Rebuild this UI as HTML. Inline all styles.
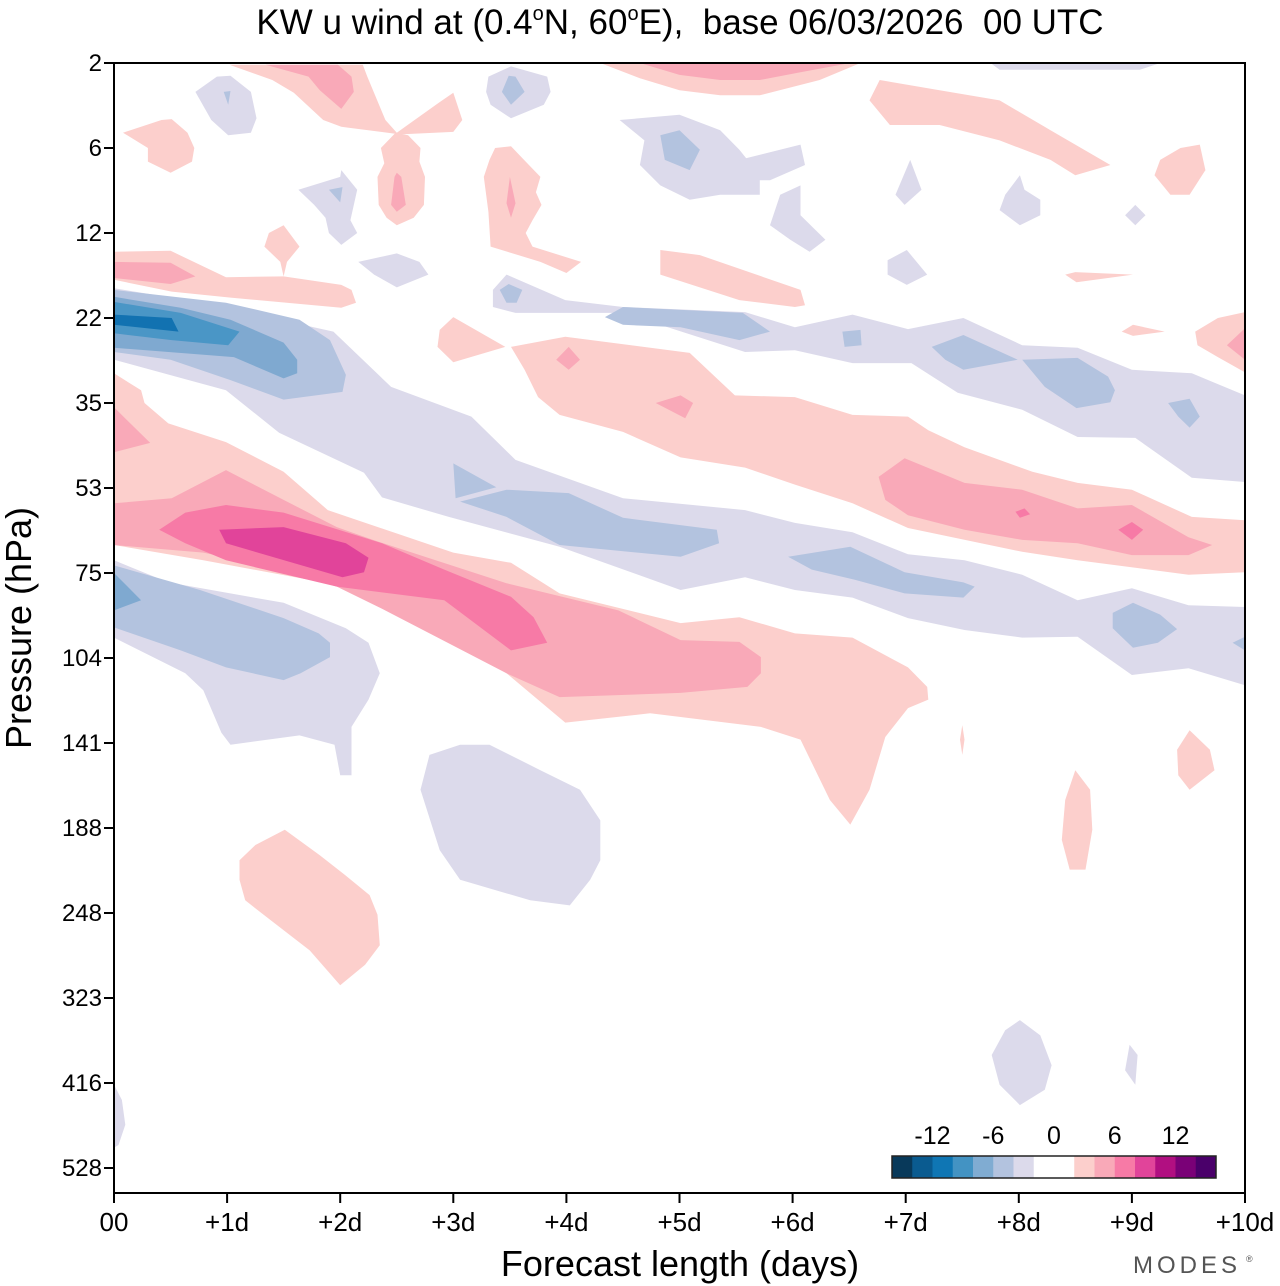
<!DOCTYPE html>
<html><head><meta charset="utf-8"><style>
html,body{margin:0;padding:0;background:#fff;}
svg{display:block;font-family:"Liberation Sans",Arial,sans-serif;}
</style></head><body>
<svg id="chart" width="1280" height="1286" viewBox="0 0 1280 1286" xmlns="http://www.w3.org/2000/svg">
<text x="680" y="34" text-anchor="middle" font-size="35">KW u wind at (0.4<tspan font-size="20" dy="-14">o</tspan><tspan dy="14">N, 60</tspan><tspan font-size="20" dy="-14">o</tspan><tspan dy="14">E),&#160; base 06/03/2026&#160; 00 UTC</tspan></text>
<g id="contours"></g>
<g id="axes"></g>
<text transform="translate(31,628) rotate(-90)" text-anchor="middle" font-size="36">Pressure (hPa)</text>
<text x="680" y="1276" text-anchor="middle" font-size="36">Forecast length (days)</text>
<text x="1133" y="1273" font-size="24" fill="#555" letter-spacing="4">MODES</text>
<text x="1246" y="1262" font-size="9" fill="#555">®</text>
<g id="colorbar"></g>
</svg>
<script>
const pressureTicks = ["2","6","12","22","35","53","75","104","141","188","248","323","416","528"];
const dayTicks = ["00","+1d","+2d","+3d","+4d","+5d","+6d","+7d","+8d","+9d","+10d"];
const cbarLabels = ["-12","-6","0","6","12"];
const cbarLabelPos = [2,5,8,11,14];
const cbarColors = ["#08395a","#0a5b90","#0f76b4","#4393c3","#80acd2","#b3c3df","#dcdaeb","#ffffff","#ffffff","#fccfcc","#f9a9b8","#f77aa6","#e1449a","#b10f81","#7a0177","#4a006a"];
const levelColors = {"-5":"#1272b1","-4":"#4a96c6","-3":"#7fa9d0","-2":"#b3c3df","-1":"#dcdaeb","1":"#fccfcc","2":"#f9a9b8","3":"#f77aa6","4":"#e1449a"};
// contour regions: level (wind anomaly class) and vertices [day, pressure-level-index, ...]
const regionLevels = [1,2,2,3,4,1,2,3,3,2,2,1,-1,-2,-3,-4,-5,-2,-2,-2,-2,-2,-1,-2,-2,-2,-2,-2,-2,-1,-2,-3,-1,1,-1,-1,-1,1,1,1,1,2,1,1,-1,1,1,2,1,2,1,2,1,1,1,2,-1,-2,-1,-2,-1,-1,-2,-1,-2,-1,-1,1,2,1,-1,-1,1,-1,-1];
const regionPoints = [
[0,3.65,.24,3.85,.27,4.0,.48,4.24,.99,4.46,1.5,4.81,1.89,5.26,3.0,5.76,3.51,5.88,3.94,6.24,5.01,6.59,5.53,6.52,6.02,6.71,6.53,6.76,7.02,7.11,7.19,7.34,7.2,7.49,7.02,7.59,6.82,7.93,6.68,8.55,6.51,8.96,6.33,8.67,6.07,7.96,5.72,7.81,4.74,7.65,3.99,7.76,3.47,7.18,2.69,6.52,2.05,6.16,.79,5.85,0,5.67],
[0,5.18,.51,5.12,.99,4.79,1.5,5.14,1.97,5.46,2.29,5.61,3.47,6.12,4.46,6.44,5.01,6.79,5.53,6.81,5.72,6.99,5.72,7.18,5.6,7.34,5.01,7.41,3.94,7.46,3.47,7.18,2.37,6.42,1.97,6.16,1.5,5.96,.79,5.76,0,5.67],
[0,4.05,.32,4.47,0,4.58],
[.4,5.49,.63,5.29,.99,5.2,1.5,5.29,2.37,5.65,2.92,5.96,3.51,6.28,3.71,6.52,3.83,6.82,3.51,6.91,2.92,6.32,1.97,6.16,.99,5.85,.63,5.65],
[.93,5.49,1.5,5.46,2.05,5.65,2.25,5.82,2.21,5.99,2.02,6.05,.99,5.65],
[3.51,3.34,3.99,3.22,5.09,3.41,5.49,3.91,6.02,3.93,6.53,4.14,7.02,4.16,7.2,4.32,7.52,4.52,8.12,4.81,8.52,4.94,9.0,5.02,9.53,5.34,10,5.38,10,5.99,9.5,6.02,8.52,5.85,8.03,5.75,7.02,5.47,6.53,5.18,6.02,4.96,5.58,4.76,5.01,4.64,4.5,4.34,3.94,4.14,3.75,3.93,3.63,3.61],
[6.76,4.87,6.99,4.65,7.52,4.94,8.03,5.02,8.52,5.24,9.0,5.2,9.5,5.58,9.71,5.67,9.5,5.79,9.0,5.79,8.52,5.65,8.03,5.61,7.52,5.49,7.02,5.32,6.82,5.14],
[9.0,5.4,9.1,5.49,9.0,5.61,8.88,5.49],
[7.97,5.28,8.05,5.24,8.1,5.31,8.01,5.35],
[4.02,3.34,4.12,3.49,4.02,3.61,3.91,3.49],
[5.01,3.91,5.12,4.0,5.05,4.18,4.79,4.0],
[3.0,2.99,3.46,3.34,3.0,3.52,2.86,3.34,2.88,3.14],
[0,2.65,.79,2.82,1.94,3.16,2.45,3.81,3.16,4.16,3.55,4.67,4.5,5.12,5.58,5.26,6.02,5.41,6.53,5.52,7.02,5.78,7.52,5.85,8.03,6.02,8.52,6.32,9.0,6.18,9.5,6.38,10,6.4,10,7.32,9.5,7.12,9.0,7.2,8.52,6.75,8.03,6.76,7.52,6.67,7.02,6.53,6.53,6.29,6.02,6.2,5.58,6.05,5.01,6.2,3.94,5.69,2.96,5.34,2.37,5.11,2.21,4.82,1.46,4.35,.99,3.85,0,3.49],
[0,2.67,.99,2.82,1.64,3.02,1.91,3.26,2.05,3.67,2.02,3.87,1.5,3.96,1.03,3.73,.5,3.49,0,3.4],
[0,2.75,.59,2.88,1.03,3.02,1.5,3.29,1.62,3.49,1.62,3.65,1.5,3.71,1.06,3.46,0,3.35],
[0,2.81,.59,2.94,1.11,3.16,1.01,3.32,.51,3.26,0,3.18],
[0,2.96,.51,3.0,.57,3.16,0,3.08],
[3.0,4.71,3.38,4.99,3.02,5.12],
[3.06,5.16,3.47,5.02,4.02,5.06,4.5,5.35,5.33,5.49,5.35,5.65,5.01,5.81,3.94,5.67,3.47,5.34],
[5.96,5.81,6.51,5.69,6.99,5.99,7.51,6.11,7.61,6.16,7.51,6.29,6.99,6.24,6.55,6.08,6.17,5.96],
[8.83,6.47,9.01,6.35,9.25,6.49,9.4,6.66,9.23,6.82,9.01,6.88,8.83,6.65],
[9.89,6.82,10,6.75,10,6.91],
[3.35,2.67,3.47,2.49,3.99,2.79,4.5,2.87,5.58,2.93,6.02,3.11,6.53,2.96,7.02,3.13,7.51,3.0,8.03,3.32,8.52,3.35,9.0,3.61,9.53,3.65,10,3.91,10,4.93,9.53,4.88,9.03,4.41,8.52,4.4,8.03,4.08,7.46,3.88,7.05,3.53,6.53,3.53,6.02,3.38,5.58,3.4,4.5,2.94,3.55,2.94,3.35,2.87],
[4.34,2.99,4.5,2.87,5.56,2.94,5.8,3.16,5.53,3.26,5.01,3.11,4.5,3.08],
[6.44,3.16,6.6,3.14,6.61,3.32,6.46,3.34],
[7.23,3.34,7.51,3.2,7.99,3.49,7.51,3.61,7.35,3.49],
[8.03,3.49,8.52,3.47,8.79,3.69,8.85,3.85,8.81,3.99,8.51,4.06,8.23,3.81],
[9.32,4.0,9.51,3.95,9.6,4.16,9.51,4.29,9.41,4.16],
[3.41,2.67,3.49,2.6,3.61,2.67,3.56,2.82,3.47,2.82],
[0,5.85,.48,6.11,1.5,6.35,2.05,6.65,2.25,6.82,2.35,7.18,2.25,7.49,2.1,7.81,2.1,8.38,2.0,8.38,1.95,8.02,1.64,7.91,1.03,8.02,.95,7.88,.79,7.38,.63,7.18,0,6.76],
[0,5.91,.76,6.2,1.5,6.53,1.81,6.71,1.91,6.82,1.91,6.99,1.65,7.18,1.5,7.26,.99,7.11,.59,6.91,0,6.64],
[0,6.0,.24,6.32,0,6.44],
[2.79,8.14,3.06,8.02,3.32,8.02,3.77,8.32,4.12,8.55,4.3,8.91,4.3,9.38,4.21,9.61,4.03,9.91,3.68,9.85,3.06,9.61,2.88,9.26,2.71,8.55],
[1.11,9.38,1.25,9.2,1.51,9.02,1.82,9.32,2.04,9.55,2.26,9.79,2.33,10.02,2.35,10.38,2.22,10.61,2.0,10.85,1.73,10.44,1.38,10.08,1.16,9.85,1.11,9.61],
[7.88,11.38,8.01,11.26,8.19,11.44,8.29,11.79,8.23,12.08,8.01,12.26,7.83,12.02,7.76,11.67],
[8.98,11.55,9.05,11.67,9.03,12.02,8.94,11.85],
[0,12.02,.07,12.2,.1,12.49,.04,12.73,0,12.76],
[8.5,8.32,8.63,8.55,8.65,9.02,8.59,9.49,8.45,9.49,8.38,9.14,8.41,8.67],
[9.51,7.85,9.69,8.08,9.73,8.32,9.51,8.55,9.41,8.38,9.4,8.08],
[7.5,7.79,7.52,7.96,7.5,8.14,7.48,7.96],
[9.56,3.16,9.76,3.0,10,2.93,10,3.64,9.76,3.46,9.58,3.32],
[9.84,3.32,10,3.12,10,3.49],
[8.91,3.16,9.01,3.08,9.29,3.16,9.01,3.21],
[8.41,2.49,8.5,2.46,9.01,2.49,8.51,2.58],
[6.84,2.32,7.01,2.2,7.19,2.49,7.01,2.61,6.84,2.49],
[4.83,2.2,5.18,2.26,6.07,2.67,6.11,2.85,6.02,2.87,5.53,2.79,4.83,2.49],
[1.02,.02,2.2,.02,2.24,.16,2.4,.67,2.5,.82,2.87,.47,3.0,.35,3.08,.67,3.0,.81,2.53,.84,2.01,.75,1.85,.67,1.59,.35,1.4,.2],
[1.34,.02,1.98,.02,2.1,.16,2.12,.34,2.01,.54,1.82,.32,1.72,.16],
[2.49,.82,2.6,.85,2.71,1.0,2.7,1.16,2.75,1.34,2.74,1.67,2.65,1.82,2.5,1.91,2.41,1.82,2.34,1.67,2.33,1.34,2.39,1.18,2.36,1.0],
[2.5,1.29,2.54,1.34,2.58,1.67,2.5,1.75,2.45,1.67,2.48,1.34],
[3.37,1.0,3.51,.98,3.64,1.16,3.77,1.34,3.73,1.52,3.78,1.67,3.7,1.85,3.64,2.0,3.7,2.16,4.13,2.34,4.0,2.47,3.77,2.34,3.33,2.16,3.31,1.75,3.27,1.34,3.32,1.14],
[3.5,1.34,3.55,1.65,3.51,1.82,3.47,1.65],
[.08,.82,.42,.67,.51,.66,.65,.82,.71,1.0,.69,1.16,.5,1.29,.3,1.16,.3,1.0],
[1.33,2.16,1.37,2.0,1.5,1.91,1.64,2.16,1.53,2.34,1.5,2.51,1.47,2.34],
[0,2.22,.5,2.21,.99,2.52,1.5,2.51,2.01,2.61,2.1,2.67,2.14,2.82,2.01,2.88,1.03,2.76,.51,2.69,0,2.55],
[0,2.34,.5,2.35,.72,2.51,.5,2.6,0,2.53],
[.72,.34,.91,.16,1.03,.15,1.21,.34,1.26,.65,1.21,.82,1.01,.85,.86,.67],
[.97,.34,1.03,.33,1.01,.49],
[1.63,1.49,2.0,1.34,2.01,1.26,2.15,1.49,2.09,1.85,2.15,2.0,2.01,2.14,1.9,2.0,1.87,1.82,1.77,1.67],
[1.9,1.49,2.02,1.46,2.0,1.64],
[2.16,2.34,2.5,2.24,2.7,2.34,2.78,2.49,2.5,2.64,2.3,2.49],
[3.31,.16,3.51,.04,3.83,.16,3.86,.34,3.8,.49,3.51,.65,3.33,.49,3.29,.34],
[3.43,.34,3.49,.15,3.55,.16,3.63,.34,3.51,.49],
[4.47,.67,5.0,.61,5.36,.79,5.53,1.02,5.71,1.32,5.71,1.55,5.36,1.55,5.09,1.61,4.83,1.44,4.65,1.2,4.69,.91],
[4.83,.85,5.0,.79,5.18,1.02,5.09,1.26,4.87,1.14],
[5.53,1.14,6.07,.96,6.11,1.2,5.8,1.38,5.58,1.38],
[5.89,1.55,6.07,1.44,6.07,1.79,6.29,2.08,6.15,2.22,5.98,2.08,5.8,1.91],
[4.3,0,6.6,0,6.24,.2,5.71,.38,5.36,.38,5.0,.32,4.65,.18],
[4.65,0,6.51,0,6.07,.11,5.71,.2,5.36,.2,5.0,.14],
[6.77,.2,7.3,.32,7.83,.44,8.28,.79,8.81,1.2,8.5,1.32,8.28,1.14,7.83,.91,7.3,.73,6.86,.73,6.68,.44],
[8.01,1.32,8.05,1.49,8.19,1.61,8.19,1.79,8.01,1.91,7.83,1.73,7.88,1.55],
[7.04,1.14,7.14,1.49,6.99,1.67,6.91,1.55],
[9.25,1.14,9.43,1.0,9.6,.96,9.65,1.26,9.51,1.55,9.34,1.55,9.2,1.32],
[9.03,1.67,9.12,1.79,9.03,1.91,8.94,1.79],
[7.75,0,9.25,0,9.07,.08,7.83,.08]
];

const NS = "http://www.w3.org/2000/svg";
const X0 = 114, X1 = 1245, Y0 = 63, Y1 = 1193;
function xScale(day){ return X0 + day * (X1 - X0) / 10; }
function yScale(lev){ return Y0 + lev * 85; }

const gc = document.getElementById('contours');
const clip = document.createElementNS(NS, 'clipPath');
clip.setAttribute('id', 'plotclip');
const cr = document.createElementNS(NS, 'rect');
cr.setAttribute('x', X0); cr.setAttribute('y', Y0); cr.setAttribute('width', X1 - X0); cr.setAttribute('height', Y1 - Y0);
clip.appendChild(cr);
gc.appendChild(clip);
gc.setAttribute('clip-path', 'url(#plotclip)');
regionPoints.forEach((pts, i) => {
  const lv = regionLevels[i];
  const p = document.createElementNS(NS, 'polygon');
  const coords = [];
  for (let k = 0; k < pts.length; k += 2) coords.push(xScale(pts[k]).toFixed(1) + ',' + yScale(pts[k + 1]).toFixed(1));
  p.setAttribute('points', coords.join(' '));
  p.setAttribute('fill', levelColors[String(lv)]);
  
  
  gc.appendChild(p);
});

const ga = document.getElementById('axes');
const frame = document.createElementNS(NS, 'rect');
frame.setAttribute('x', X0); frame.setAttribute('y', Y0); frame.setAttribute('width', X1 - X0); frame.setAttribute('height', Y1 - Y0);
frame.setAttribute('fill', 'none'); frame.setAttribute('stroke', '#000'); frame.setAttribute('stroke-width', '2');


ga.appendChild(frame);
pressureTicks.forEach((lab, i) => {
  const y = yScale(i);
  const t = document.createElementNS(NS, 'line');
  t.setAttribute('x1', X0 - 10); t.setAttribute('x2', X0); t.setAttribute('y1', y); t.setAttribute('y2', y);
  t.setAttribute('stroke', '#000'); t.setAttribute('stroke-width', '2');
  
  
  ga.appendChild(t);
  const tx = document.createElementNS(NS, 'text');
  tx.setAttribute('x', X0 - 12); tx.setAttribute('y', y + 8);
  tx.setAttribute('text-anchor', 'end'); tx.setAttribute('font-size', '24');
  tx.textContent = lab;
  
  
  ga.appendChild(tx);
});
dayTicks.forEach((lab, i) => {
  const x = xScale(i);
  const t = document.createElementNS(NS, 'line');
  t.setAttribute('x1', x); t.setAttribute('x2', x); t.setAttribute('y1', Y1); t.setAttribute('y2', Y1 + 10);
  t.setAttribute('stroke', '#000'); t.setAttribute('stroke-width', '2');
  
  
  ga.appendChild(t);
  const tx = document.createElementNS(NS, 'text');
  tx.setAttribute('x', x); tx.setAttribute('y', Y1 + 38);
  tx.setAttribute('text-anchor', 'middle'); tx.setAttribute('font-size', '26');
  tx.textContent = lab;
  
  
  ga.appendChild(tx);
});

const gb = document.getElementById('colorbar');
const CB0 = 892, CBW = 324 / cbarColors.length, CBY = 1156, CBH = 22;
cbarColors.forEach((c, i) => {
  const r = document.createElementNS(NS, 'rect');
  r.setAttribute('x', CB0 + i * CBW); r.setAttribute('y', CBY); r.setAttribute('width', CBW + 0.5); r.setAttribute('height', CBH);
  r.setAttribute('fill', c);
  
  
  gb.appendChild(r);
});
const cbf = document.createElementNS(NS, 'rect');
cbf.setAttribute('x', CB0); cbf.setAttribute('y', CBY); cbf.setAttribute('width', 324); cbf.setAttribute('height', CBH);
cbf.setAttribute('fill', 'none'); cbf.setAttribute('stroke', '#222'); cbf.setAttribute('stroke-width', '1.5');


gb.appendChild(cbf);
cbarLabels.forEach((lab, i) => {
  const tx = document.createElementNS(NS, 'text');
  tx.setAttribute('x', CB0 + cbarLabelPos[i] * CBW);
  tx.setAttribute('y', 1144);
  tx.setAttribute('text-anchor', 'middle'); tx.setAttribute('font-size', '25');
  tx.textContent = lab;
  
  
  gb.appendChild(tx);
});
</script>
</body></html>
